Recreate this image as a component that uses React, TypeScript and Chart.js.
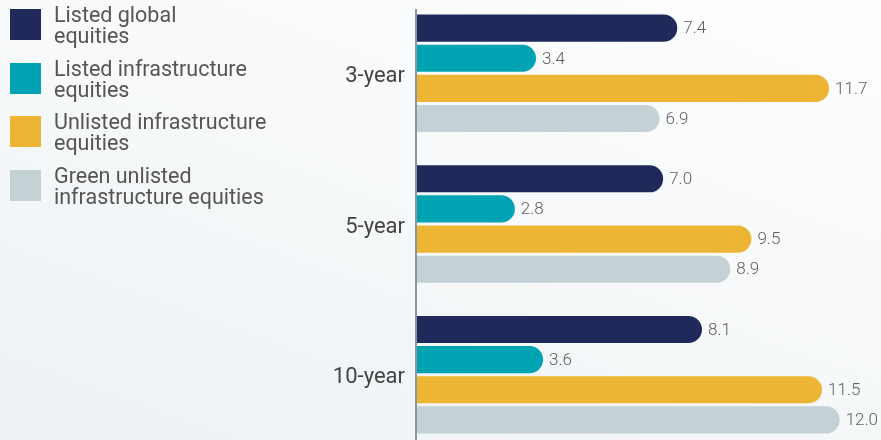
import React, { useEffect, useRef } from "react";
import { Chart, registerables } from "chart.js";

Chart.register(...registerables);

const categories = ["3-year", "5-year", "10-year"];
const seriesNames = [
  ["Listed global", "equities"],
  ["Listed infrastructure", "equities"],
  ["Unlisted infrastructure", "equities"],
  ["Green unlisted", "infrastructure equities"],
];
const listedGlobal = [7.4, 7.0, 8.1];
const listedInfra = [3.4, 2.8, 3.6];
const unlistedInfra = [11.7, 9.5, 11.5];
const greenUnlisted = [6.9, 8.9, 12.0];
const colors = ["#1f2a5a", "#00a3b1", "#ecb533", "#c4d1d5"];

const FONT = "Roboto, 'Noto Sans', sans-serif";

export default function App() {
  const ref = useRef<HTMLCanvasElement | null>(null);

  useEffect(() => {
    if (!ref.current) return;
    const valueLabels = {
      id: "valueLabels",
      afterDatasetsDraw(chart: any) {
        const ctx = chart.ctx;
        ctx.save();
        ctx.font = `300 17px ${FONT}`;
        ctx.fillStyle = "#5f5f5f";
        ctx.textAlign = "left";
        ctx.textBaseline = "middle";
        chart.data.datasets.forEach((ds: any, i: number) => {
          const meta = chart.getDatasetMeta(i);
          meta.data.forEach((bar: any, j: number) => {
            ctx.fillText(Number(ds.data[j]).toFixed(1), bar.x + 6, bar.y + 1);
          });
        });
        // category labels
        const yScale = chart.scales.y;
        ctx.font = `400 22px ${FONT}`;
        ctx.fillStyle = "#444";
        ctx.textAlign = "right";
        chart.data.labels.forEach((lab: string, j: number) => {
          ctx.fillText(lab, chart.chartArea.left - 11, yScale.getPixelForValue(j) + 3);
        });
        ctx.restore();
      },
    };
    const axisLine = {
      id: "axisLine",
      afterDatasetsDraw(chart: any) {
        const ctx = chart.ctx;
        const x = chart.chartArea.left;
        ctx.save();
        ctx.fillStyle = "#8797a3";
        ctx.fillRect(x - 1, 11, 2, chart.chartArea.bottom - 11);
        ctx.restore();
      },
    };
    const data = [listedGlobal, listedInfra, unlistedInfra, greenUnlisted];
    const chart = new Chart(ref.current, {
      type: "bar",
      data: {
        labels: categories,
        datasets: data.map((d, i) => ({
          label: seriesNames[i].join(" "),
          data: d,
          backgroundColor: colors[i],
          borderRadius: { topRight: 14, bottomRight: 14, topLeft: 0, bottomLeft: 0 },
          borderSkipped: false,
          categoryPercentage: 0.8,
          barPercentage: 0.9,
        })),
      },
      options: {
        indexAxis: "y",
        animation: false,
        responsive: false,
        maintainAspectRatio: false,
        layout: { padding: { left: 0, right: 6, top: 0, bottom: 0 } },
        plugins: { legend: { display: false }, tooltip: { enabled: false } },
        scales: {
          x: { display: false, min: 0, max: 13 },
          y: {
            afterFit: (s: any) => {
              s.width = 416;
              s.paddingTop = 0;
              s.paddingBottom = 0;
            },
            grid: { display: false, drawTicks: false },
            border: { display: false },
            ticks: { display: false },
          },
        },
      },
      plugins: [valueLabels, axisLine],
    });
    return () => chart.destroy();
  }, []);

  return (
    <div
      style={{
        position: "absolute",
        left: 0,
        top: 0,
        width: 881,
        height: 440,
        overflow: "hidden",
        background: "linear-gradient(200deg, #fdfefe 0%, #f7f9fa 45%, #edf1f4 100%)",
        fontFamily: FONT,
      }}
    >
      <canvas
        ref={ref}
        width={881}
        height={452}
        style={{ position: "absolute", left: 0, top: -2, width: 881, height: 452 }}
      />
      {seriesNames.map((lines, i) => (
        <div
          key={i}
          style={{ position: "absolute", left: 10, top: 9 + i * 53.7, display: "flex" }}
        >
          <div style={{ width: 31, height: 31, background: colors[i], flex: "none" }} />
          <div
            style={{
              marginLeft: 13,
              marginTop: -5,
              fontSize: 21.5,
              lineHeight: "21px",
              color: "#555",
              whiteSpace: "nowrap",
            }}
          >
            {lines.map((l, k) => (
              <div key={k}>{l}</div>
            ))}
          </div>
        </div>
      ))}
    </div>
  );
}
